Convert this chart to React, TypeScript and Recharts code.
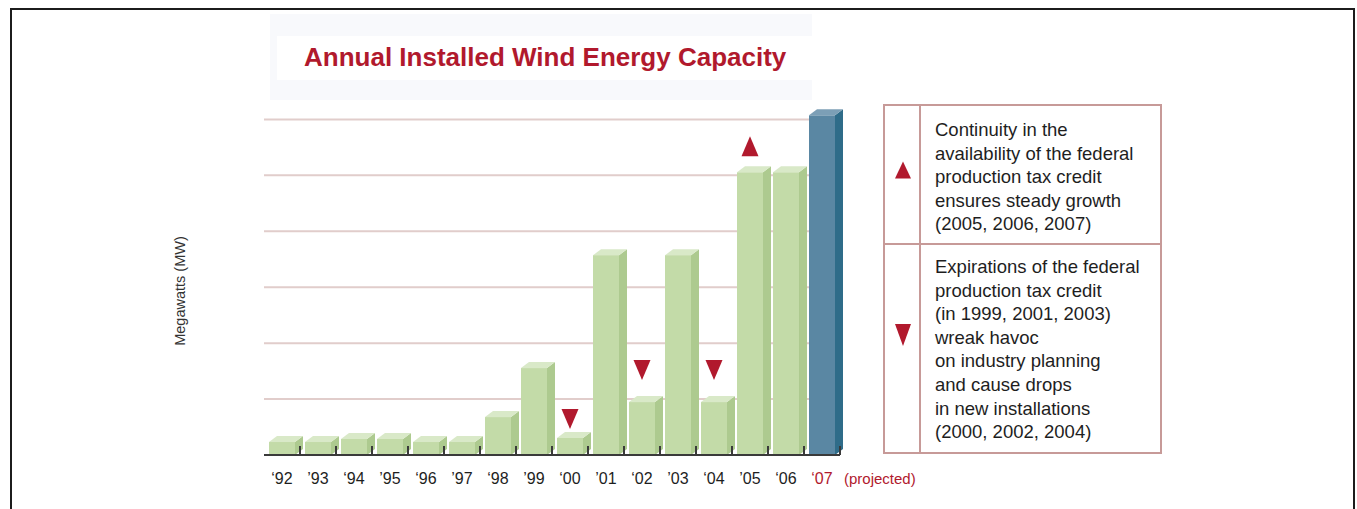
import React from 'react';
import { ComposedChart, Bar, Scatter, XAxis, YAxis, CartesianGrid } from 'recharts';

// ---- data ----
const years = ['‘92', '’93', '‘94', '’95', '‘96', '’97', '‘98', '’99', '‘00', '’01', '‘02', '’03', '‘04', '’05', '‘06', '‘07'];
const installedMW = [116, 116, 143, 143, 116, 116, 339, 777, 152, 1786, 473, 1786, 473, 2527, 2527, 3036];
const markerMW: (number | null)[] = [null, null, null, null, null, null, null, null, 321, null, 759, null, 759, 2759, null, null];
const markerDirection = ['', '', '', '', '', '', '', '', 'down', '', 'down', '', 'down', 'up', '', ''];
const projectedYear = '‘07';
const yTicks = [0, 500, 1000, 1500, 2000, 2500, 3000];
const gridValues = [500, 1000, 1500, 2000, 2500, 3000];
const titleText = 'Annual Installed Wind Energy Capacity';
const yAxisLabel = 'Megawatts (MW)';
const projectedLabel = '(projected)';
const legendUpLines = ['Continuity in the', 'availability of the federal', 'production tax credit', 'ensures steady growth', '(2005, 2006, 2007)'];
const legendDownLines = ['Expirations of the federal', 'production tax credit', '(in 1999, 2001, 2003)', 'wreak havoc', 'on industry planning', 'and cause drops', 'in new installations', '(2000, 2002, 2004)'];

const data = years.map((year, i) => ({ year, mw: installedMW[i], marker: markerMW[i], dir: markerDirection[i] }));

// ---- style ----
const FONT = '"Liberation Sans", Arial, Helvetica, sans-serif';
const RED = '#b1192d';
const W = 1357;
const H = 509;
const PLOT_LEFT = 264;
const PLOT_RIGHT = 840;
const HALF_BAND = (PLOT_RIGHT - PLOT_LEFT) / years.length / 2;

function Bar3D(props: any) {
  const { x, y, width, height, payload } = props;
  if (width == null || height == null) return null;
  const d = 8;
  const dy = 6;
  const proj = payload && payload.year === projectedYear;
  const front = proj ? '#5a87a3' : '#c3dba8';
  const side = proj ? '#2f6c89' : '#adca8f';
  const top = proj ? '#7c9fb6' : '#d9e9c8';
  return (
    <g>
      <polygon points={`${x + width},${y} ${x + width + d},${y - dy} ${x + width + d},${y + height - dy} ${x + width},${y + height}`} fill={side} />
      <polygon points={`${x},${y} ${x + d},${y - dy} ${x + width + d},${y - dy} ${x + width},${y}`} fill={top} />
      <rect x={x} y={y} width={width} height={height} fill={front} />
    </g>
  );
}

function Triangle({ cx, cy, dir, w = 17, h = 20 }: { cx: number; cy: number; dir: string; w?: number; h?: number }) {
  const pts = dir === 'up'
    ? `${cx - w / 2},${cy + h / 2} ${cx + w / 2},${cy + h / 2} ${cx},${cy - h / 2}`
    : `${cx - w / 2},${cy - h / 2} ${cx + w / 2},${cy - h / 2} ${cx},${cy + h / 2}`;
  return <polygon points={pts} fill={RED} />;
}

function MarkerShape(props: any) {
  const { cx, cy, payload } = props;
  if (!payload || payload.marker == null || cx == null || cy == null || isNaN(cy)) return <g />;
  return <Triangle cx={cx} cy={cy} dir={payload.dir} />;
}

function XTick(props: any) {
  const { x, y, payload } = props;
  const proj = payload.value === projectedYear;
  return (
    <g>
      <line x1={x + HALF_BAND} x2={x + HALF_BAND} y1={y - 9} y2={y} stroke="#3a3a3a" strokeWidth={2} />
      <text x={x} y={y + 29} textAnchor="middle" fontSize={16} fontFamily={FONT} fill={proj ? RED : '#1e1e1e'}>
        {payload.value}
      </text>
      {proj && (
        <text x={x + 22} y={y + 29} fontSize={15} fontFamily={FONT} fill={RED}>
          {projectedLabel}
        </text>
      )}
    </g>
  );
}

export default function App() {
  return (
    <div style={{ position: 'absolute', left: 0, top: 0, width: W, height: H, background: '#ffffff', overflow: 'hidden', fontFamily: FONT }}>
      {/* background decoration */}
      <svg width={W} height={H} style={{ position: 'absolute', left: 0, top: 0 }}>
        <rect x={270} y={14} width={542} height={86} fill="#f8f9fc" />
        <rect x={277} y={36} width={535} height={44} fill="#ffffff" />
      </svg>

      <div style={{ position: 'absolute', left: 0, top: 0 }}>
        <ComposedChart width={W} height={H} data={data} margin={{ top: 97, right: W - PLOT_RIGHT, bottom: 24, left: PLOT_LEFT }}>
          <CartesianGrid vertical={false} stroke="#e1cdcb" strokeWidth={2} horizontalValues={gridValues} />
          <YAxis hide domain={[0, 3200]} ticks={yTicks} type="number" />
          <XAxis
            dataKey="year"
            height={30}
            tick={<XTick />}
            tickLine={false}
            tickSize={0}
            tickMargin={0}
            interval={0}
            axisLine={{ stroke: '#3a3a3a', strokeWidth: 2 }}
          />
          <Bar dataKey="mw" barSize={26} shape={<Bar3D />} isAnimationActive={false} />
          <Scatter dataKey="marker" shape={<MarkerShape />} isAnimationActive={false} />
        </ComposedChart>
      </div>

      {/* overlay texts */}
      <svg width={W} height={H} style={{ position: 'absolute', left: 0, top: 0, pointerEvents: 'none' }}>
        <text x={304} y={66} fontSize={26} fontWeight="bold" fill={RED} fontFamily={FONT}>{titleText}</text>
        <text x={185} y={291} fontSize={14.5} fill="#333" fontFamily={FONT} textAnchor="middle" transform="rotate(-90 185 291)">
          {yAxisLabel}
        </text>

        {/* legend box */}
        <rect x={884} y={105} width={277} height={348} fill="#ffffff" stroke="#c79a98" strokeWidth={2} />
        <line x1={920} x2={920} y1={105} y2={453} stroke="#c79a98" strokeWidth={2} />
        <line x1={884} x2={1161} y1={244} y2={244} stroke="#c79a98" strokeWidth={2} />
        <Triangle cx={903} cy={170} dir="up" w={16} h={17} />
        <Triangle cx={903} cy={335} dir="down" w={16} h={22} />
        <text fontSize={18.5} fill="#1e1e1e" fontFamily={FONT}>
          {legendUpLines.map((l, i) => (
            <tspan key={i} x={935} y={136 + i * 23.6}>{l}</tspan>
          ))}
        </text>
        <text fontSize={18.5} fill="#1e1e1e" fontFamily={FONT}>
          {legendDownLines.map((l, i) => (
            <tspan key={i} x={935} y={273 + i * 23.6}>{l}</tspan>
          ))}
        </text>
      </svg>

      {/* frame */}
      <div style={{ position: 'absolute', left: 10, top: 8, width: 1341, height: 520, borderTop: '2px solid #1c1c1c', borderLeft: '2px solid #1c1c1c', borderRight: '2px solid #1c1c1c' }} />
    </div>
  );
}
